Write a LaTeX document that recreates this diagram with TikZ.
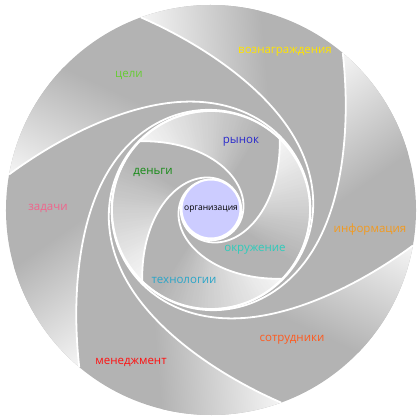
\documentclass[tikz,border=0pt]{standalone}
\usepackage{fontspec}
\setmainfont{Open Sans}
\definecolor{bladegray}{HTML}{B3B3B3}
\definecolor{bladelight}{HTML}{F5F5F5}
\definecolor{orgfill}{HTML}{CCCCFF}
\definecolor{cGoal}{HTML}{66CC33}
\definecolor{cReward}{HTML}{FFE400}
\definecolor{cInfo}{HTML}{F39A1E}
\definecolor{cStaff}{HTML}{FF5A1E}
\definecolor{cMgmt}{HTML}{FF1010}
\definecolor{cTask}{HTML}{F0648C}
\definecolor{cMarket}{HTML}{2A2ACC}
\definecolor{cMoney}{HTML}{158A15}
\definecolor{cTech}{HTML}{2AA5C8}
\definecolor{cEnv}{HTML}{2ECCBB}
\newcommand\OuterBlade[1]{(#1-60:205) arc[start angle=#1-60,end angle=#1,radius=205]
 -- plot[domain=0:240,samples=121,variable=\t] ({#1-\t}:{99+106*exp(-\t/31)})
 -- plot[domain=0:180,samples=91,variable=\t] ({#1-240+\t}:{99+106*exp(-(180-\t)/31)})
 -- cycle}
\newcommand\MidBlade[1]{(#1-90:99) arc[start angle=#1-90,end angle=#1,radius=99]
 -- plot[domain=0:360,samples=181,variable=\t] ({#1-\t}:{30+69*exp(-\t/40)})
 -- plot[domain=0:270,samples=136,variable=\t] ({#1-360+\t}:{30+69*exp(-(270-\t)/40)})
 -- cycle}
\tikzset{
  edgeline/.style={white,line width=1.8pt,line join=round},
  lbl/.style={font=\fontsize{11.5}{13}\selectfont,inner sep=0pt}
}
\begin{document}
\begin{tikzpicture}[x=1pt,y=1pt]
\useasboundingbox (-211,-210) rectangle (209,210);
% outer blades
\foreach \b in {110,50,-10,-70,-130,170}{
  \begin{scope}
    \clip \OuterBlade{\b};
    \fill[bladegray] (-215,-215) rectangle (215,215);
    \begin{scope}
      \clip (0,0) -- (\b+20:260) arc[start angle=\b+20,end angle=\b-110,radius=260] -- cycle;
      \fill[bladelight,transform canvas={shift={(\b:205)},rotate=\b-105}] (-300,-300) rectangle (0,300);
      \shade[transform canvas={shift={(\b:205)},rotate=\b-105},left color=bladelight,right color=bladegray] (0,-300) rectangle (120,300);
    \end{scope}
  \end{scope}
}
% middle blades
\foreach \b in {136,46,-44,-134}{
  \begin{scope}
    \clip \MidBlade{\b};
    \fill[bladegray] (-100,-100) rectangle (100,100);
    \foreach \i in {0,...,39}{
      \pgfmathtruncatemacro\pc{100*\i/39}
      \fill[bladegray!\pc!bladelight] (0,0) -- (\b-2*\i:105) arc[start angle=\b-2*\i,end angle=\b-2*\i-2.6,radius=105] -- cycle;
    }
  \end{scope}
}
% white edges
\foreach \b in {110,50,-10,-70,-130,170}
  \draw[edgeline] plot[domain=0:200,samples=101,variable=\t] ({\b-\t}:{99+106*exp(-\t/31)});
\draw[edgeline] (0,0) circle[radius=99];
\foreach \b in {136,46,-44,-134}
  \draw[edgeline] plot[domain=0:300,samples=151,variable=\t] ({\b-\t}:{30+69*exp(-\t/40)});
\node[circle,fill=orgfill,draw=white,line width=2pt,minimum size=59pt,inner sep=0pt,font=\fontsize{8.5}{10}\selectfont] (org) at (0,1) {организация};
% labels
\node[lbl,text=cGoal] (goal) at (-82,135) {цели};
\node[lbl,text=cReward] (reward) at (74,158) {вознаграждения};
\node[lbl,text=cInfo] (info) at (159,-20) {информация};
\node[lbl,text=cStaff] (staff) at (81,-130) {сотрудники};
\node[lbl,text=cMgmt] (mgmt) at (-80,-152) {менеджмент};
\node[lbl,text=cTask] (task) at (-163,2) {задачи};
\node[lbl,text=cMarket] (market) at (30,68) {рынок};
\node[lbl,text=cMoney] (money) at (-58,38) {деньги};
\node[lbl,text=cTech] (tech) at (-27,-70) {технологии};
\node[lbl,text=cEnv] (env) at (44,-40) {окружение};
\end{tikzpicture}
\end{document}
